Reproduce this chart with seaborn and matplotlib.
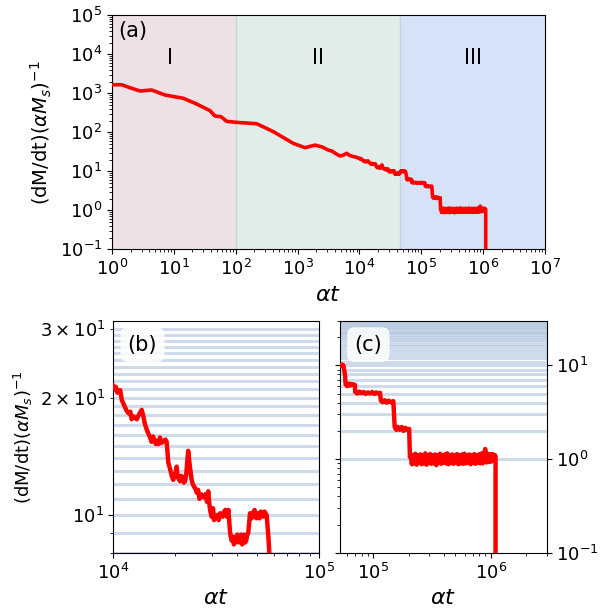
import numpy as np
import pandas as pd
import seaborn as sns
import matplotlib.pyplot as plt
from matplotlib.ticker import LogLocator, NullFormatter

# time (alpha t) and normalised rate (dM/dt)(alpha M_s)^-1
# regions I and II, up to 1e4
early_at = [1.0, 1.43, 1.95, 2.84, 4.37, 7.19, 14.2, 22, 29.9, 38.4, 46.2, 57.8, 71.5,
            104, 218, 405, 853, 1320, 1914, 2500, 3140, 3600, 4200, 4850, 5500, 6220,
            6800, 7500, 8300, 9040, 9600]
early_rate = [1660, 1660, 1390, 1145, 1215, 904, 745, 555, 438, 358, 262, 251, 191,
              180, 166, 104, 52, 40.3, 47, 42, 35, 33, 28, 24.7, 26, 29,
              26, 24.5, 23.5, 22.9, 21.5]

# end of region II (panel b)
mid_at = [1.0e4, 1.02e4, 1.03e4, 1.045e4, 1.057e4, 1.08e4, 1.1e4, 1.12e4, 1.14e4,
          1.161e4, 1.19e4, 1.21e4, 1.228e4, 1.25e4, 1.27e4, 1.30e4, 1.32e4, 1.34e4,
          1.374e4, 1.40e4, 1.42e4, 1.45e4, 1.50e4, 1.535e4, 1.56e4, 1.58e4, 1.61e4,
          1.63e4, 1.66e4, 1.685e4, 1.71e4, 1.74e4, 1.79e4, 1.816e4, 1.85e4, 1.88e4,
          1.9e4, 1.93e4, 1.955e4, 1.98e4, 2.01e4, 2.03e4, 2.05e4, 2.07e4, 2.11e4,
          2.14e4, 2.17e4, 2.2e4, 2.23e4, 2.26e4, 2.28e4, 2.31e4, 2.33e4, 2.35e4,
          2.40e4, 2.43e4, 2.47e4, 2.5e4, 2.54e4, 2.58e4, 2.62e4, 2.67e4, 2.73e4,
          2.8e4, 2.85e4, 2.89e4, 2.93e4, 2.96e4, 3.0e4, 3.05e4, 3.08e4, 3.12e4,
          3.2e4, 3.25e4, 3.3e4, 3.4e4, 3.45e4, 3.5e4, 3.56e4, 3.62e4, 3.69e4,
          3.75e4, 3.8e4, 3.85e4, 3.9e4, 3.95e4, 4.0e4, 4.06e4, 4.12e4, 4.17e4,
          4.22e4, 4.27e4, 4.32e4, 4.37e4, 4.42e4, 4.47e4, 4.52e4, 4.61e4, 4.68e4,
          4.75e4, 4.8e4, 4.85e4, 4.9e4, 4.95e4, 5.0e4, 5.06e4, 5.13e4, 5.2e4,
          5.27e4, 5.35e4, 5.42e4, 5.48e4, 5.55e4, 5.66e4, 5.76e4]
mid_rate = [21.5, 21.0, 21.3, 20.6, 20.8, 20.9, 19.7, 19.3, 18.9,
            18.5, 18.2, 18.4, 17.6, 17.9, 17.8, 17.6, 17.9, 18.2,
            18.6, 17.9, 17.2, 16.6, 15.9, 15.4, 15.9, 15.6, 15.2,
            15.5, 15.2, 15.8, 15.3, 15.4, 15.6, 15.4, 13.6, 13.2,
            12.9, 12.5, 12.3, 12.6, 12.9, 13.3, 12.6, 12.4, 12.2,
            12.6, 12.5, 12.1, 12.2, 12.7, 13.5, 14.6, 14.0, 13.4,
            12.3, 12.0, 11.8, 11.7, 11.4, 11.6, 11.0, 11.3, 11.1,
            11.3, 10.8, 11.5, 10.6, 10.2, 9.9, 10.4, 9.7, 9.8,
            10.0, 9.7, 10.1, 9.9, 10.2, 10.3, 9.9, 10.3, 8.98,
            8.6, 8.8, 8.4, 8.5, 8.8, 8.9, 8.5, 8.7, 8.9,
            8.4, 8.8, 8.9, 8.5, 8.6, 8.9, 8.98, 10.1, 9.8,
            9.9, 10.2, 10.3, 9.9, 9.8, 10.1, 10.0, 9.8, 10.2,
            10.0, 9.9, 10.2, 10.1, 10.0, 8.8, 7.5]

# steps in region III
steps_at = [5.8e4, 6.0e4, 6.2e4, 6.4e4, 6.6e4, 6.97e4, 7.0e4, 7.3e4, 7.6e4, 7.9e4,
            8.3e4, 8.6e4, 9.0e4, 9.4e4, 9.8e4, 1.02e5, 1.06e5, 1.1e5, 1.14e5,
            1.16e5, 1.2e5, 1.25e5, 1.3e5, 1.35e5, 1.41e5, 1.48e5, 1.52e5, 1.57e5,
            1.62e5, 1.68e5, 1.75e5, 1.81e5, 1.88e5, 1.95e5, 2.02e5, 2.05e5]
steps_rate = [6.3, 6.0, 6.4, 6.1, 6.3, 6.2, 5.2, 5.0, 5.25, 5.05,
              5.2, 4.95, 5.15, 5.0, 5.2, 4.95, 5.15, 5.0, 5.1,
              4.2, 4.05, 4.25, 4.0, 4.2, 4.05, 4.15, 2.2, 2.05,
              2.2, 2.05, 2.2, 2.0, 2.15, 2.05, 2.1, 1.05]

# noisy plateau near 1 and final drop
plateau_at = [2.08e5, 2.13e5, 2.18e5, 2.23e5, 2.28e5, 2.34e5, 2.40e5, 2.46e5, 2.52e5,
              2.58e5, 2.64e5, 2.70e5, 2.77e5, 2.84e5, 2.91e5, 2.98e5, 3.05e5, 3.12e5,
              3.20e5, 3.28e5, 3.36e5, 3.44e5, 3.52e5, 3.61e5, 3.70e5, 3.79e5, 3.88e5,
              3.97e5, 4.07e5, 4.17e5, 4.27e5, 4.37e5, 4.48e5, 4.59e5, 4.70e5, 4.81e5,
              4.93e5, 5.05e5, 5.17e5, 5.30e5, 5.43e5, 5.56e5, 5.70e5, 5.84e5, 5.98e5,
              6.12e5, 6.27e5, 6.42e5, 6.58e5, 6.74e5, 6.90e5, 7.07e5, 7.24e5, 7.42e5,
              7.60e5, 7.78e5, 7.97e5, 8.16e5, 8.36e5, 8.56e5, 8.77e5, 8.98e5, 9.20e5,
              9.42e5, 9.65e5, 9.88e5, 1.012e6, 1.037e6, 1.062e6, 1.088e6, 1.1e6, 1.1e6]
plateau_rate = [1.12, 0.88, 1.1, 0.9, 1.14, 0.87, 1.1, 0.92, 1.12,
                0.88, 1.09, 0.9, 1.15, 0.87, 1.1, 0.91, 1.13, 0.89,
                1.1, 0.9, 1.12, 0.86, 1.1, 0.91, 1.14, 0.89, 1.1,
                0.92, 1.12, 0.9, 1.15, 0.88, 1.1, 0.91, 1.12, 0.89,
                1.1, 0.92, 1.13, 0.88, 1.1, 0.9, 1.12, 0.89, 1.14,
                0.9, 1.1, 0.92, 1.12, 0.88, 1.1, 0.91, 1.13, 0.89,
                1.1, 0.92, 1.12, 0.9, 1.15, 0.9, 1.12, 1.28, 0.92,
                1.14, 0.93, 1.12, 0.94, 1.13, 0.96, 1.1, 1.05, 0.001]

region_edges = [1, 100, 4.6e4, 1e7]
region_names = ["I", "II", "III"]
region_label_x = [8.7, 2140, 6.9e5]
region_colors = ["#ede1e5", "#e2ece8", "#d6e2f7"]

stripe_levels = np.arange(1, 31)

df = pd.DataFrame({"at": early_at + mid_at + steps_at + plateau_at,
                   "rate": early_rate + mid_rate + steps_rate + plateau_rate})

ylab = r"(dM/dt)$(\alpha M_s)^{-1}$"
xlab = r"$\alpha t$"


def draw_curve(ax, lw):
    sns.lineplot(data=df, x="at", y="rate", sort=False, estimator=None,
                 color="red", lw=lw, ax=ax, zorder=3)


def stripes(ax):
    for lv in stripe_levels:
        ax.axhline(lv, color="lightsteelblue", alpha=0.6, lw=2.2, zorder=1)


fig = plt.figure(figsize=(6.08, 6.10), dpi=100)

# (a) full history
ax_a = fig.add_axes([112 / 608, 1 - 249.3 / 610, 433 / 608, 234 / 610])
ax_a.set_xscale("log")
ax_a.set_yscale("log")
for i in range(3):
    ax_a.axvspan(region_edges[i], region_edges[i + 1], color=region_colors[i], lw=0, zorder=0)
    ax_a.text(region_label_x[i], 8000, region_names[i], ha="center", va="center", fontsize=15)
for e in region_edges[1:3]:
    ax_a.axvline(e, color="#c9d3d6", lw=1, zorder=0.5)
draw_curve(ax_a, 2.6)
ax_a.set_xlim(1, 1e7)
ax_a.set_ylim(1e-1, 1e5)
ax_a.xaxis.set_major_locator(LogLocator(base=10, numticks=12))
ax_a.xaxis.set_minor_locator(LogLocator(base=10, subs=np.arange(2, 10), numticks=12))
ax_a.xaxis.set_minor_formatter(NullFormatter())
ax_a.yaxis.set_major_locator(LogLocator(base=10, numticks=12))
ax_a.yaxis.set_minor_locator(LogLocator(base=10, subs=np.arange(2, 10), numticks=12))
ax_a.yaxis.set_minor_formatter(NullFormatter())
ax_a.set_xlabel(xlab, fontsize=16)
ax_a.set_ylabel(ylab, fontsize=14)
ax_a.text(0.015, 0.975, "(a)", transform=ax_a.transAxes, fontsize=15, va="top", ha="left")

# (b) zoom on the end of region II
ax_b = fig.add_axes([113.3 / 608, 1 - 552.7 / 610, 206 / 608, 232 / 610])
ax_b.set_xscale("log")
ax_b.set_yscale("log")
stripes(ax_b)
draw_curve(ax_b, 3.2)
ax_b.set_xlim(1e4, 1e5)
ax_b.set_ylim(8, 31.5)
ax_b.xaxis.set_minor_formatter(NullFormatter())
ax_b.set_xlabel(xlab, fontsize=16)
ax_b.set_ylabel(ylab, fontsize=13)
ax_b.text(0.07, 0.94, "(b)", transform=ax_b.transAxes, fontsize=15, va="top", ha="left",
          bbox=dict(boxstyle="round,pad=0.35", fc="white", ec="none", alpha=0.85), zorder=4)

# (c) zoom on region III
ax_c = fig.add_axes([340 / 608, 1 - 552.7 / 610, 206.7 / 608, 232 / 610])
ax_c.set_xscale("log")
ax_c.set_yscale("log")
stripes(ax_c)
draw_curve(ax_c, 3.2)
ax_c.set_xlim(5.2e4, 3e6)
ax_c.set_ylim(1e-1, 30)
ax_c.xaxis.set_minor_formatter(NullFormatter())
ax_c.set_xlabel(xlab, fontsize=16)
ax_c.set_ylabel("")
ax_c.tick_params(axis="y", which="major", left=True, right=True, labelleft=False, labelright=True)
ax_c.tick_params(axis="y", which="minor", left=True, right=False)
ax_c.text(0.07, 0.94, "(c)", transform=ax_c.transAxes, fontsize=15, va="top", ha="left",
          bbox=dict(boxstyle="round,pad=0.35", fc="white", ec="none", alpha=0.85), zorder=4)

for ax in (ax_a, ax_b, ax_c):
    ax.tick_params(axis="both", which="both", labelsize=13)

fig.savefig("out.png", dpi=100)
